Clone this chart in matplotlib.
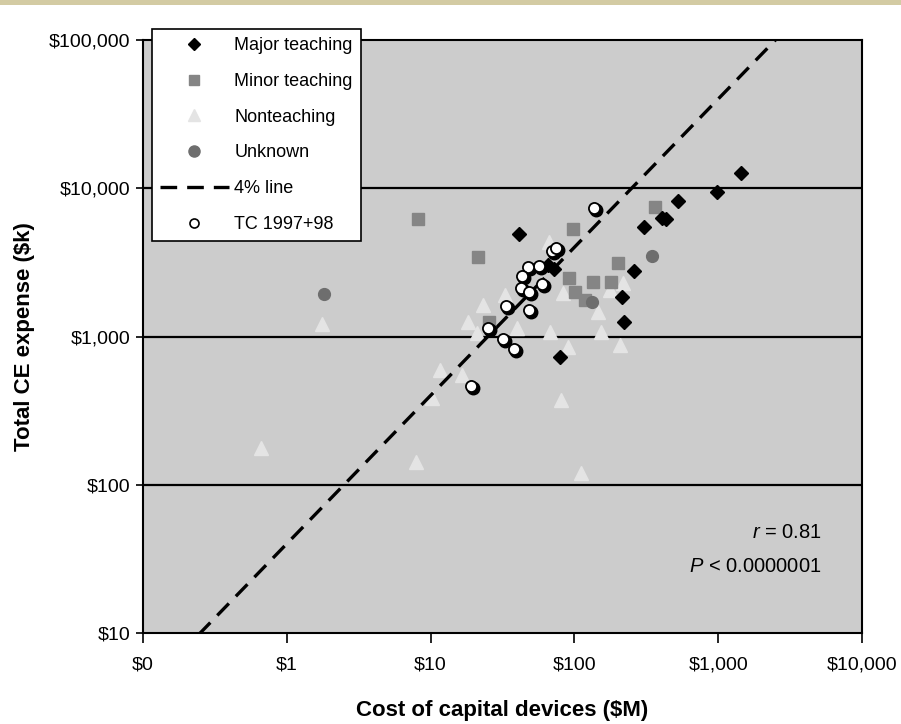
import matplotlib
matplotlib.use('Agg')
import matplotlib.pyplot as plt
import matplotlib.transforms as mtransforms
from matplotlib.lines import Line2D
from matplotlib.patches import Rectangle
import numpy as np

plt.rcParams['font.family'] = ['Liberation Sans', 'DejaVu Sans']
plt.rcParams['mathtext.fontset'] = 'custom'
plt.rcParams['mathtext.rm'] = 'Liberation Sans'
plt.rcParams['mathtext.it'] = 'Liberation Sans:italic'

# cost of capital devices ($M) vs total CE expense ($k)
major_x = [41, 66, 72, 79, 214, 221, 259, 305, 406, 434, 525, 981, 1442]
major_y = [4900, 3030, 2850, 727, 1846, 1253, 2770, 5480, 6296, 6240, 8200, 9440, 12680]

minor_x = [8.2, 21.4, 97.7, 363, 201, 91.6, 101, 118.6, 134.5, 179.5, 25.5]
minor_y = [6210, 3436, 5310, 7480, 3134, 2484, 1995, 1762, 2333, 2333, 1253]

nonteach_x = [1.76, 0.66, 7.9, 10.2, 11.6, 16.5, 18.2, 23.1, 21, 39.9, 32.9, 83.4,
              67.6, 90.2, 146, 153, 177, 218, 207, 66.5, 80.7, 111]
nonteach_y = [1214, 177, 142, 385, 594, 550, 1253, 1630, 1058, 1141, 1905, 1963,
              1072, 849, 1462, 1072, 2062, 2296, 877, 4335, 373, 120]

unknown_x = [1.82, 347, 132]
unknown_y = [1936, 3490, 1710]

tc_x = [137, 69.8, 74.5, 56.8, 47.5, 43.2, 59.6, 42.6, 48.3, 48.3, 33.4, 25.1, 31.8, 38.0, 19.1]
tc_y = [7360, 3776, 3954, 2992, 2944, 2558, 2260, 2123, 1995, 1510, 1607, 1141, 962, 824, 463]

line_pct = 0.04  # 4% line: expense = 4% of device cost

x_ticks = [0.1, 1, 10, 100, 1000, 10000]
x_labels = ['$0', '$1', '$10', '$100', '$1,000', '$10,000']
y_ticks = [10, 100, 1000, 10000, 100000]
y_labels = ['$10', '$100', '$1,000', '$10,000', '$100,000']

fig = plt.figure(figsize=(9.01, 7.24), dpi=100)
fig.patches.append(Rectangle((0, 1 - 5 / 724), 1, 5 / 724, transform=fig.transFigure,
                             facecolor='#d3cba3', edgecolor='none'))
ax = fig.add_axes([143 / 901, 91 / 724, 719 / 901, 593 / 724])
ax.set_facecolor('#cccccc')
ax.set_xscale('log')
ax.set_yscale('log')
ax.set_xlim(0.1, 10000)
ax.set_ylim(10, 100000)

for yv in [100, 1000, 10000]:
    ax.axhline(yv, color='black', lw=1.6, zorder=1)

ax.plot(nonteach_x, nonteach_y, ls='none', marker='^', ms=10, color='#e4e4e4', zorder=2)

xs = np.logspace(-1, 4, 200)
ax.plot(xs, xs * 1000 * line_pct, color='black', lw=2.4, dashes=(5, 3), zorder=3)

ax.plot(minor_x, minor_y, ls='none', marker='s', ms=8.5, color='#858585', zorder=4)
ax.plot(unknown_x, unknown_y, ls='none', marker='o', ms=8.5, color='#6e6e6e', zorder=4)
ax.plot(major_x, major_y, ls='none', marker='D', ms=7.5, color='black', zorder=5)

# TC points have a small drop shadow
shadow = mtransforms.offset_copy(ax.transData, fig=fig, x=1.5, y=-1.5, units='points')
ax.plot(tc_x, tc_y, ls='none', marker='o', ms=9, color='black', transform=shadow, zorder=6)
ax.plot(tc_x, tc_y, ls='none', marker='o', ms=8, mfc='white', mec='black', mew=1.3, zorder=7)

ax.set_xticks(x_ticks)
ax.set_xticklabels(x_labels)
ax.set_yticks(y_ticks)
ax.set_yticklabels(y_labels)
ax.minorticks_off()
ax.tick_params(axis='x', length=7, width=1.2, pad=10, labelsize=14)
ax.tick_params(axis='y', length=5, width=1.2, pad=4, labelsize=14)
for sp in ax.spines.values():
    sp.set_linewidth(1.5)

ax.set_xlabel('Cost of capital devices ($M)', fontsize=16, fontweight='bold', labelpad=19)
ax.set_ylabel('Total CE expense ($k)', fontsize=16, fontweight='bold', labelpad=10)

ax.text(0.944, 0.17, r'$\it{r}$ = 0.81', transform=ax.transAxes, ha='right', va='center', fontsize=14.5)
ax.text(0.944, 0.112, r'$\it{P}$ < 0.0000001', transform=ax.transAxes, ha='right', va='center', fontsize=14.5)

handles = [
    Line2D([], [], ls='none', marker='D', ms=6.5, color='black'),
    Line2D([], [], ls='none', marker='s', ms=7, color='#858585'),
    Line2D([], [], ls='none', marker='^', ms=9, color='#e4e4e4'),
    Line2D([], [], ls='none', marker='o', ms=8, color='#6e6e6e'),
    Line2D([], [], color='black', lw=2.4, dashes=(5, 3)),
    Line2D([], [], ls='none', marker='o', ms=6.5, mfc='white', mec='black', mew=1.2),
]
labels = ['Major teaching', 'Minor teaching', 'Nonteaching', 'Unknown', '4% line', 'TC 1997+98']
leg = fig.legend(handles, labels, loc='upper left', bbox_to_anchor=(152 / 901, 1 - 29 / 724),
                 fancybox=False, edgecolor='black', framealpha=1, fontsize=13,
                 handlelength=3.8, handletextpad=0.3, labelspacing=1.04, borderpad=0.45,
                 borderaxespad=0)
leg.get_frame().set_linewidth(1.2)
leg.set_zorder(10)

fig.savefig('out.png', dpi=100)
